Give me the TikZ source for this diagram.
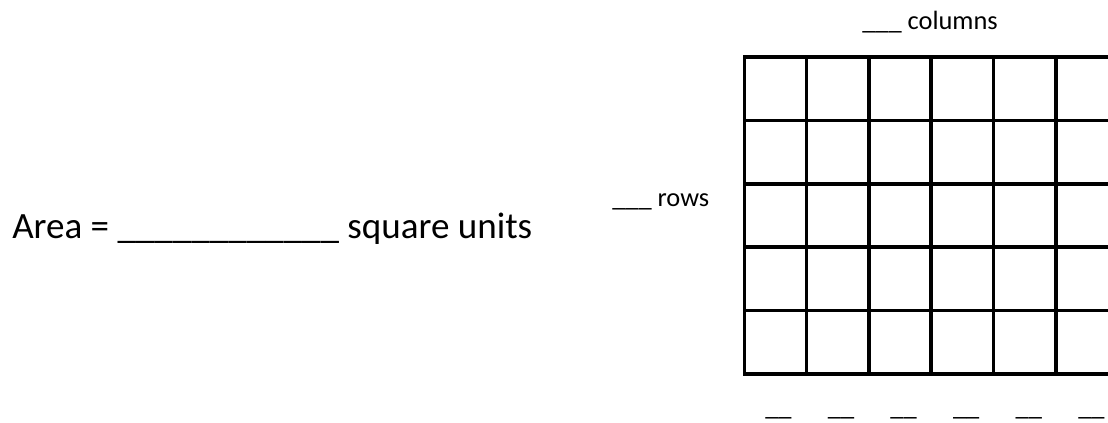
\documentclass[tikz,border=0pt]{standalone}
\usepackage{fontspec}
\setmainfont{Carlito}
\begin{document}
\begin{tikzpicture}[x=0.75pt,y=-0.75pt,
  gridline/.style={line width=2.7pt,line cap=rect},
  big/.style={inner sep=0pt,anchor=base west,font=\fontsize{27.8}{33}\selectfont},
  small/.style={inner sep=0pt,anchor=base west,font=\fontsize{19.8}{24}\selectfont}]
\useasboundingbox (0,0) rectangle (1108,423);
\begin{scope}
\clip (0,0) rectangle (1108,423);
\foreach \i in {0,...,5} {
  \draw[gridline] (744.3+62.3*\i,57) -- (744.3+62.3*\i,374);
}
\foreach \j in {0,...,5} {
  \draw[gridline] (744.3,57+63.4*\j) -- (1120,57+63.4*\j);
}
\end{scope}
\node[big] (area) at (12,239) {Area = \_\_\_\_\_\_\_\_\_\_\_\_ square units};
\node[small] (cols) at (862,30) {\_\_\_ columns};
\node[small] (rows) at (612,207) {\_\_\_ rows};
\foreach \i in {0,...,5} {
  \node[small] (d\i) at (765+62.6*\i,416) {\_\_};
}
\end{tikzpicture}
\end{document}
